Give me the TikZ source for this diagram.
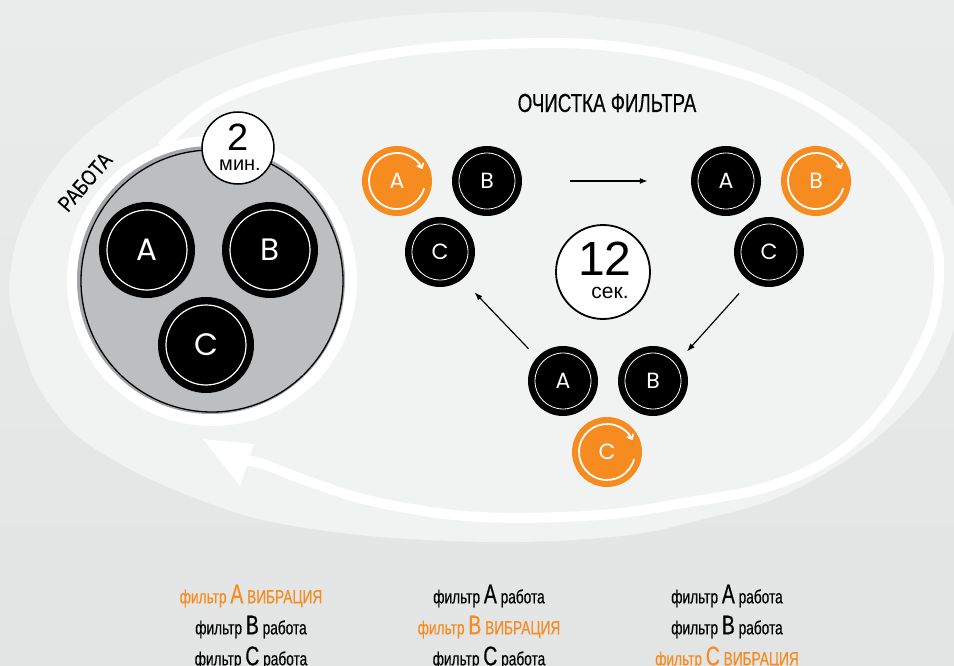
\documentclass[tikz,border=0pt]{standalone}
\usepackage{fontspec}
\setmainfont{Liberation Sans}
\newfontfamily\condfont[FakeStretch=0.72, FakeBold=0.4]{Liberation Sans}
\newfontfamily\workfont[FakeStretch=0.8, FakeBold=0.3]{Liberation Sans}
\newfontfamily\circfont{Poppins}
\usepackage{tikz}
\usetikzlibrary{arrows.meta,calc}
\definecolor{vib}{HTML}{F68B1F}
\definecolor{bgtop}{HTML}{EAEBEB}
\definecolor{bgbot}{HTML}{E3E4E4}
\definecolor{ringfill}{HTML}{F1F2F2}
\definecolor{padgray}{HTML}{BCBEC0}
\definecolor{padrim}{HTML}{A4A6A9}
\newcommand{\fbig}[1]{{\fontsize{27}{27}\selectfont #1}}

\begin{document}
\begin{tikzpicture}[x=1pt, y=-1pt,
  filt/.style={circle, fill=black, inner sep=0pt, minimum size=70pt, text=white, font=\circfont\fontsize{22}{22}\selectfont},
  bigfilt/.style={filt, minimum size=96pt, font=\circfont\fontsize{31}{31}\selectfont},
  vibfilt/.style={filt, fill=vib},
  ring/.style={white, line width=0.8pt},
  spin/.style={white, line width=1.8pt, -{Straight Barb[length=4pt,width=7pt]}},
  flow/.style={line width=1.2pt, -{Latex[length=8pt,width=6pt]}},
  badge/.style={circle, fill=white, draw=black, line width=1.5pt, inner sep=0pt},
  legend/.style={font=\condfont\fontsize{19}{31}\selectfont, align=center}]
\useasboundingbox (0,0) rectangle (954,666);
% fondo e anello esterno
\shade[top color=bgtop, bottom color=bgbot] (0,0) rectangle (954,666);
\fill[ringfill] plot[smooth cycle, tension=0.7] coordinates {(10,275) (22,345) (50,405) (100,452) (200,500) (300,527) (450,541) (600,538) (700,520) (800,487) (900,417) (950,340) (962,265) (945,190) (867,110) (733,42) (600,17) (480,12) (350,22) (220,55) (110,115) (40,190)};
% freccia bianca del ciclo
\draw[white, line width=10pt] plot[smooth, tension=0.6] coordinates {(162,146) (215,103) (300,72) (400,52) (500,44) (600,45) (700,62) (800,97) (883,157) (933,233) (937,300) (920,350) (883,410) (833,457) (767,487) (683,503) (600,515) (480,517) (380,503) (313,483) (263,464) (245,461)};
\fill[white] (203,439) -- (254,444) -- (240,486) -- cycle;
% disco filtri in lavoro
\fill[white] (212,281) circle (145pt);
\fill[padrim] (211,280) circle (134pt);
\filldraw[fill=padgray, draw=black, line width=1.3pt] (212,281) circle (131pt);
\node[bigfilt] (wa) at (147,250) {A};
\node[bigfilt] (wb) at (270,250) {B};
\node[bigfilt] (wc) at (206,345) {C};
\foreach \n in {wa,wb,wc}
  \draw[ring, line width=1.2pt] (\n.center) circle (40pt);
\node[badge, minimum size=72pt] (twomin) at (238,148) {};
\node[font=\fontsize{38}{38}\selectfont, anchor=base] at (238,151) {2};
\node[font=\fontsize{20}{20}\selectfont, anchor=base] at (240,171) {мин.};
\node[font=\workfont\fontsize{22}{22}\selectfont, rotate=49] (work) at (85,182) {РАБОТА};
% pulizia filtri
\node[font=\condfont\fontsize{26}{26}\selectfont] (title) at (607,103) {ОЧИСТКА ФИЛЬТРА};
\node[vibfilt] (s1a) at (397,181) {A};
\node[filt] (s1b) at (487,181) {B};
\node[filt] (s1c) at (440,252) {C};
\node[filt] (s2a) at (726,181) {A};
\node[vibfilt] (s2b) at (816,181) {B};
\node[filt] (s2c) at (769,252) {C};
\node[filt] (s3a) at (563,381) {A};
\node[filt] (s3b) at (653,381) {B};
\node[vibfilt] (s3c) at (607,452) {C};
\foreach \n in {s1b,s1c,s2a,s2c,s3a,s3b}
  \draw[ring] (\n.center) circle (28pt);
\foreach \n in {s1a,s2b,s3c}
  \draw[spin] ([shift={(-15:28pt)}]\n.center) arc[start angle=-15, end angle=-335, radius=28pt];
\draw[flow, shorten <=48pt, shorten >=43pt] (s1b.east) -- (s2a.west);
\draw[flow, shorten <=16pt, shorten >=10pt] (s2c.-123) -- (s3b.39);
\draw[flow, shorten <=12pt, shorten >=18pt] (s3a.138) -- (s1c.-51);
\node[badge, minimum size=94pt, line width=1.8pt] (twelve) at (603,272) {};
\node[font=\fontsize{48}{48}\selectfont, anchor=base] at (605,276) {12};
\node[font=\fontsize{21}{21}\selectfont, anchor=base] at (610,298) {сек.};
% legenda
\node[legend] (leg1) at (251,627) {{\color{vib}фильтр \fbig{A} ВИБРАЦИЯ}\\фильтр \fbig{B} работа\\фильтр \fbig{C} работа};
\node[legend] (leg2) at (489,627) {фильтр \fbig{A} работа\\{\color{vib}фильтр \fbig{B} ВИБРАЦИЯ}\\фильтр \fbig{C} работа};
\node[legend] (leg3) at (727,627) {фильтр \fbig{A} работа\\фильтр \fbig{B} работа\\{\color{vib}фильтр \fbig{C} ВИБРАЦИЯ}};
\end{tikzpicture}
\end{document}
